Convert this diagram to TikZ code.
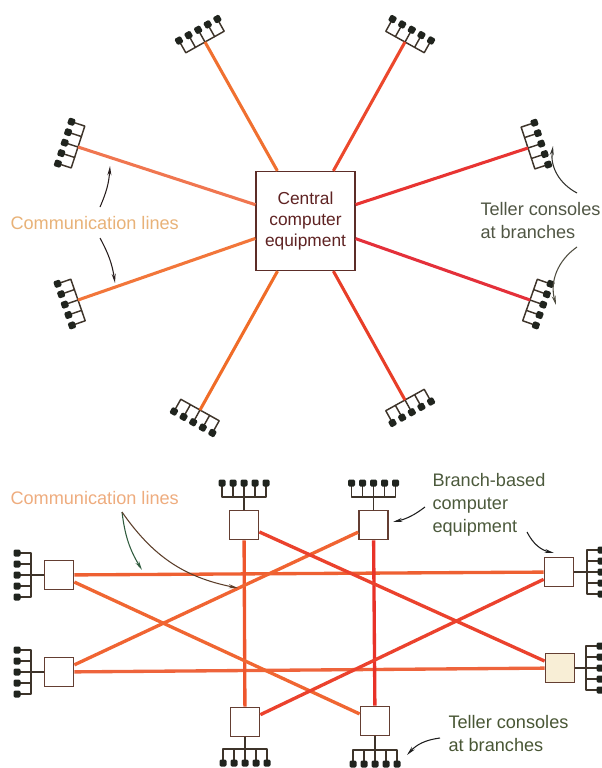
\documentclass[tikz,border=0pt]{standalone}
\usepackage{fontspec}
\setmainfont{Liberation Sans}
\usetikzlibrary{arrows.meta}

\tikzset{every picture/.style={line width=0.75pt}}
\tikzset{
	rake/.style={draw={rgb, 255:red, 62; green, 52; blue, 42 }, line width=1.1pt, line cap=round, line join=round},
	pad/.style={fill={rgb, 255:red, 32; green, 36; blue, 30 }, rounded corners=1pt},
	pics/console/.style={code={
		\coordinate (-base) at (0,0);
		\draw[rake] (14,-22) -- (0,-22) -- (0,22) -- (14,22);
		\foreach \k in {-11,0,11} {\draw[rake] (0,\k) -- (14,\k);}
		\foreach \k in {-22,-11,0,11,22} {\fill[pad] (10.5,\k-3.5) rectangle (17.5,\k+3.5);}
	}},
	comm/.style={line width=2.3pt},
	link/.style={line width=2.5pt},
	hub/.style={draw={rgb, 255:red, 92; green, 45; blue, 40 }, line width=1.2pt, fill=white, minimum width=74pt, minimum height=74pt, inner sep=0pt, align=center, text={rgb, 255:red, 95; green, 35; blue, 35 }, font=\fontsize{13}{15.8}\selectfont},
	site/.style={draw={rgb, 255:red, 100; green, 62; blue, 50 }, line width=1.1pt, fill=white, minimum size=22pt, inner sep=0pt},
	tag/.style={inner sep=0pt, align=left, font=\fontsize{13.6}{17.2}\selectfont},
	pointer/.style={line width=0.8pt, -{Stealth[length=7pt,width=3pt]}}
}

\begin{document}
\begin{tikzpicture}[x=0.75pt,y=0.75pt,yscale=-1,xscale=1]
	\useasboundingbox (0,0) rectangle (602,768);

	%Shape: Square [id:ctr]
	\node[hub] (ctr) at (305.5,221) {Central\\computer\\equipment};

	%Teller consoles round the centre
	\pic[rotate=119.3] (ca) at (205,42) {console};
	\pic[rotate=60.9] (cb) at (405,42) {console};
	\pic[rotate=162] (cc) at (78,147) {console};
	\pic[rotate=-160.9] (cd) at (78,300) {console};
	\pic[rotate=18.2] (ce) at (528,148) {console};
	\pic[rotate=-19.4] (cf) at (530,300) {console};
	\pic[rotate=-119.2] (cg) at (200,410) {console};
	\pic[rotate=-60.9] (ch) at (405,400) {console};

	%Straight Lines: spokes
	\draw[comm, color={rgb, 255:red, 240; green, 112; blue, 48 }] (ctr) -- (ca-base);
	\draw[comm, color={rgb, 255:red, 236; green, 72; blue, 44 }] (ctr) -- (cb-base);
	\draw[comm, color={rgb, 255:red, 240; green, 118; blue, 80 }] (ctr) -- (cc-base);
	\draw[comm, color={rgb, 255:red, 242; green, 118; blue, 58 }] (ctr) -- (cd-base);
	\draw[comm, color={rgb, 255:red, 232; green, 52; blue, 50 }] (ctr) -- (ce-base);
	\draw[comm, color={rgb, 255:red, 228; green, 48; blue, 58 }] (ctr) -- (cf-base);
	\draw[comm, color={rgb, 255:red, 240; green, 108; blue, 40 }] (ctr) -- (cg-base);
	\draw[comm, color={rgb, 255:red, 232; green, 62; blue, 40 }] (ctr) -- (ch-base);

	% Text Node
	\node[tag, anchor=base west, text={rgb, 255:red, 232; green, 178; blue, 120 }] (comma) at (10,229) {Communication lines};
	% Text Node
	\node[tag, anchor=north west, text={rgb, 255:red, 80; green, 86; blue, 68 }] (tella) at (480,202) {Teller consoles\\at branches};

	%Curve Lines
	\coordinate (p1s) at (100,207); \coordinate (p1e) at (110,166);
	\coordinate (p2s) at (100,238); \coordinate (p2e) at (115,283);
	\coordinate (p3s) at (577,193); \coordinate (p3e) at (553,146);
	\coordinate (p4s) at (577,247); \coordinate (p4e) at (556,305);
	\draw[pointer, color={rgb, 255:red, 40; green, 30; blue, 30 }] (p1s) to[bend left=10] (p1e);
	\draw[pointer, color={rgb, 255:red, 40; green, 30; blue, 30 }] (p2s) to[bend right=10] (p2e);
	\draw[pointer, color={rgb, 255:red, 50; green, 50; blue, 45 }] (p3s) to[bend right=35] (p3e);
	\draw[pointer, color={rgb, 255:red, 80; green, 78; blue, 65 }] (p4s) to[bend left=35] (p4e);

	%Shape: Square [id:branch boxes]
	\node[site] (la) at (59,575) {};
	\node[site] (lb) at (59,672) {};
	\node[site] (ta) at (244,525) {};
	\node[site] (tb) at (373.5,525) {};
	\node[site] (ba) at (245,722) {};
	\node[site] (bb) at (375,721) {};
	\node[site] (ra) at (559,572) {};
	\node[site, fill={rgb, 255:red, 248; green, 238; blue, 214 }] (rb) at (560,668) {};

	%Teller consoles at each branch
	\pic[rotate=180] (lac) at (31,575) {console};
	\pic[rotate=180] (lbc) at (31,672) {console};
	\pic[rotate=90] (tac) at (244,497) {console};
	\pic[rotate=90] (tbc) at (373.5,497) {console};
	\pic[rotate=-90] (bac) at (245,749) {console};
	\pic[rotate=-90] (bbc) at (375,750) {console};
	\pic[rotate=0] (rac) at (587,572) {console};
	\pic[rotate=0] (rbc) at (586,668) {console};
	\foreach \s in {la,lb,ta,tb,ba,bb,ra,rb} {\draw[rake] (\s) -- (\s c-base);}

	%Straight Lines: branch to branch
	\draw[link, color={rgb, 255:red, 238; green, 96; blue, 50 }] (la) -- (ra);
	\draw[link, color={rgb, 255:red, 238; green, 100; blue, 60 }] (lb) -- (rb);
	\draw[link, color={rgb, 255:red, 238; green, 86; blue, 45 }] (ta) -- (ba);
	\draw[link, color={rgb, 255:red, 232; green, 50; blue, 40 }] (tb) -- (bb);
	\draw[link, color={rgb, 255:red, 240; green, 102; blue, 50 }] (la) -- (bb);
	\draw[link, color={rgb, 255:red, 240; green, 100; blue, 50 }] (lb) -- (tb);
	\draw[link, color={rgb, 255:red, 235; green, 66; blue, 45 }] (ta) -- (rb);
	\draw[link, color={rgb, 255:red, 235; green, 66; blue, 45 }] (ba) -- (ra);

	% Text Node
	\node[tag, anchor=base west, text={rgb, 255:red, 238; green, 172; blue, 126 }] (commb) at (10,504) {Communication lines};
	% Text Node
	\node[tag, anchor=north west, text={rgb, 255:red, 76; green, 90; blue, 60 }] (based) at (432,473) {Branch-based\\computer\\equipment};
	% Text Node
	\node[tag, anchor=north west, text={rgb, 255:red, 72; green, 86; blue, 52 }] (tellb) at (448,715) {Teller consoles\\at branches};

	%Curve Lines
	\coordinate (q0) at (122,512);
	\coordinate (q1e) at (142,570); \coordinate (q2e) at (238,588);
	\coordinate (b1s) at (425,507); \coordinate (b1e) at (393,522);
	\coordinate (b2s) at (527,532); \coordinate (b2e) at (554,553);
	\coordinate (t2s) at (440,738); \coordinate (t2e) at (407,755);
	\draw[pointer, color={rgb, 255:red, 48; green, 92; blue, 62 }] (q0) to[bend left=12] (q1e);
	\draw[pointer, color={rgb, 255:red, 92; green, 62; blue, 42 }] (q0) to[bend left=22] (q2e);
	\draw[pointer, color={rgb, 255:red, 30; green, 30; blue, 30 }] (b1s) to[bend right=12] (b1e);
	\draw[pointer, color={rgb, 255:red, 30; green, 30; blue, 30 }] (b2s) to[bend left=25] (b2e);
	\draw[pointer, color={rgb, 255:red, 30; green, 30; blue, 30 }] (t2s) to[bend left=20] (t2e);

\end{tikzpicture}
\end{document}
